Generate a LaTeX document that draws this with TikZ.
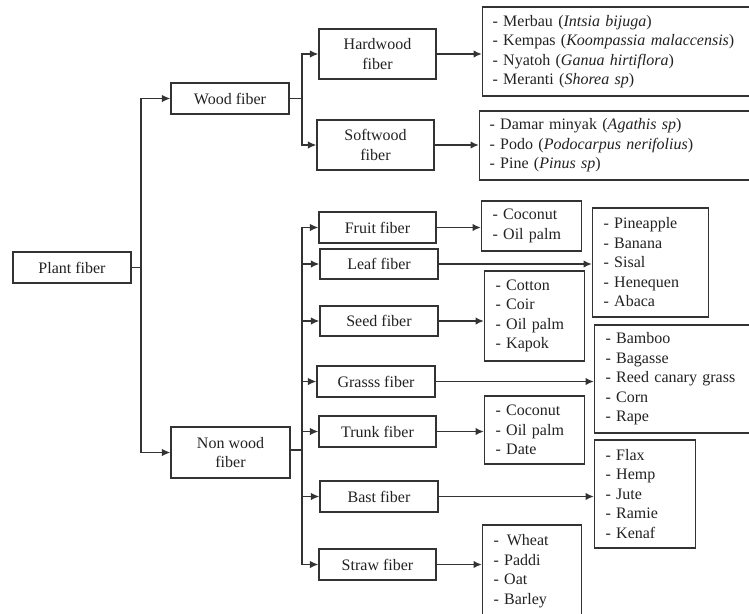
\documentclass[tikz,border=0pt]{standalone}
\usepackage{fontspec}
\setmainfont{Liberation Serif}
\usetikzlibrary{arrows.meta}
\definecolor{ink}{HTML}{222222}
\definecolor{edge}{HTML}{333333}
\tikzset{
  box/.style={draw=edge, line width=1.1pt, text=ink, inner sep=0pt, align=center,
    font=\fontsize{16}{19.5}\selectfont},
  catbox/.style={box, minimum width=#1, minimum height=31},
  listbox/.style={box, align=left, anchor=west, inner xsep=11pt, inner ysep=0pt},
  conn/.style={draw=edge, line width=1.7pt},
  arr/.style={conn, -{Latex[length=8.5pt,width=7.5pt]}},
}
\begin{document}
\begin{tikzpicture}[x=1pt,y=-1pt]
\clip (0,0) rectangle (749,613);
\fill[white] (0,0) rectangle (749,613);

% level 1-2
\node[catbox=118] (plant) at (72,267.5) {Plant fiber};
\node[catbox=118] (wood) at (230,98.5) {Wood fiber};
\node[catbox=119, minimum height=51] (nonwood) at (230.5,452.5) {Non wood\\fiber};

% wood children
\node[catbox=117, minimum height=50] (hard) at (377.5,54) {Hardwood\\fiber};
\node[catbox=117, minimum height=50] (soft) at (375.5,145) {Softwood\\fiber};

% non wood children
\node[catbox=117] (fruit) at (377.5,227.5) {Fruit fiber};
\node[catbox=118, minimum height=30] (leaf) at (379,264) {Leaf fiber};
\node[catbox=118, minimum height=30] (seed) at (379,321) {Seed fiber};
\node[catbox=118] (grass) at (376,381.5) {Grasss fiber};
\node[catbox=117] (trunk) at (377.5,431.5) {Trunk fiber};
\node[catbox=118] (bast) at (379,496.5) {Bast fiber};
\node[catbox=117] (straw) at (377.5,564.5) {Straw fiber};

% lists
\node[listbox, text width=290pt, minimum height=89, inner xsep=10pt] (hardlist) at (482,51.5)
  {- Merbau (\textit{Intsia bijuga})\\
   - Kempas (\textit{Koompassia malaccensis})\\
   - Nyatoh (\textit{Ganua hirtiflora})\\
   - Meranti (\textit{Shorea sp})};
\node[listbox, text width=290pt, minimum height=69, inner xsep=10pt] (softlist) at (479,145.5)
  {- Damar minyak (\textit{Agathis sp})\\
   - Podo (\textit{Podocarpus nerifolius})\\
   - Pine (\textit{Pinus sp})};
\node[listbox, text width=78pt, minimum height=50] (fruitlist) at (481,226)
  {- Coconut\\- Oil palm};
\node[listbox, text width=94pt, minimum height=109] (leaflist) at (592,262.5)
  {- Pineapple\\- Banana\\- Sisal\\- Henequen\\- Abaca};
\node[listbox, text width=78pt, minimum height=90] (seedlist) at (484,316)
  {- Cotton\\- Coir\\- Oil palm\\- Kapok};
\node[listbox, text width=200pt, minimum height=108] (grasslist) at (594,379)
  {- Bamboo\\- Bagasse\\- Reed canary grass\\- Corn\\- Rape};
\node[listbox, text width=78pt, minimum height=68] (trunklist) at (484,430)
  {- Coconut\\- Oil palm\\- Date};
\node[listbox, text width=79pt, minimum height=108] (bastlist) at (594,494)
  {- Flax\\- Hemp\\- Jute\\- Ramie\\- Kenaf};
\node[listbox, text width=77pt, minimum height=92] (strawlist) at (482,571)
  {- \,Wheat\\- Paddi\\- Oat\\- Barley};

% junctions
\coordinate (j1) at (141,267.5);
\coordinate (j2) at (302,98.5);
\coordinate (j3) at (302,450);

\draw[conn] (plant.east) -- (j1);
\draw[arr] (j1) |- (wood.west);
\draw[arr] (j1) |- (nonwood.west);

\draw[conn] (wood.east) -- (j2);
\draw[arr] (j2) |- (hard.west);
\draw[arr] (j2) |- (soft.west);

\draw[conn] (nonwood.east |- j3) -- (j3);
\foreach \n in {fruit,leaf,seed,grass,trunk,bast,straw}
  \draw[arr] (j3) |- (\n.west);

% category -> list
\draw[arr] (hard.east) -- (hard.east -| hardlist.west);
\draw[arr] (soft.east) -- (soft.east -| softlist.west);
\draw[arr] (fruit.east) -- (fruit.east -| fruitlist.west);
\draw[arr] (leaf.east) -- (leaf.east -| leaflist.west);
\draw[arr] (seed.east) -- (seed.east -| seedlist.west);
\draw[arr] (grass.east) -- (grass.east -| grasslist.west);
\draw[arr] (trunk.east) -- (trunk.east -| trunklist.west);
\draw[arr] (bast.east) -- (bast.east -| bastlist.west);
\draw[arr] (straw.east) -- (straw.east -| strawlist.west);
\end{tikzpicture}
\end{document}
